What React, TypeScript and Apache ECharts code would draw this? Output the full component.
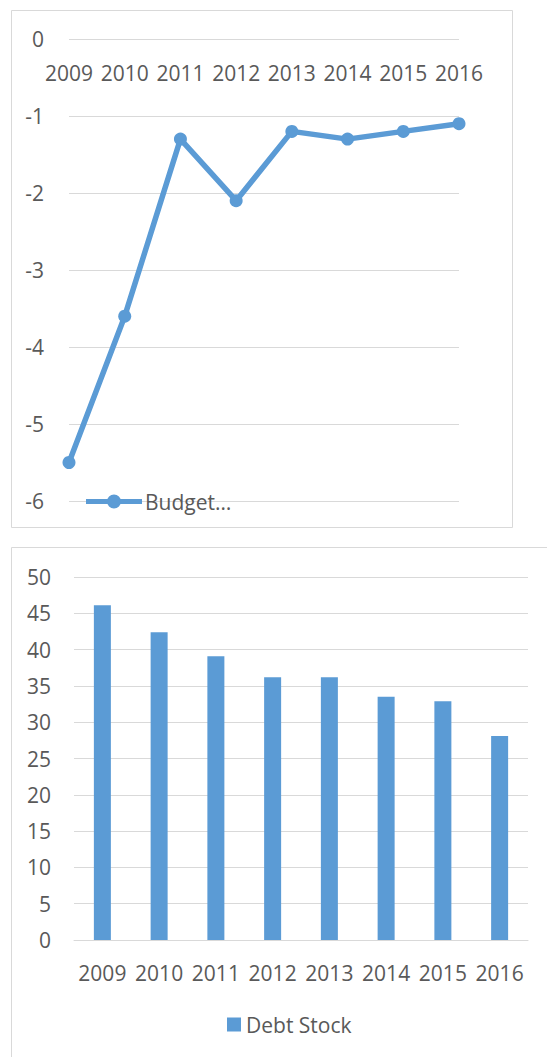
import React, { useEffect, useRef } from "react";
import * as echarts from "echarts";

const years = ["2009", "2010", "2011", "2012", "2013", "2014", "2015", "2016"];
const budgetBalance = [-5.5, -3.6, -1.3, -2.1, -1.2, -1.3, -1.2, -1.1];
const debtStock = [46.1, 42.4, 39.1, 36.2, 36.2, 33.5, 32.9, 28.1];
const budgetTicks = { min: -6, max: 0, interval: 1 };
const debtTicks = { min: 0, max: 50, interval: 5 };

const BLUE = "#5B9BD5";
const GRID = "#d9d9d9";
const TEXT = "#595959";
const FONT = "'Open Sans', 'Noto Sans', sans-serif";
const FS = 21;
const LINE_MARKER_ICON =
  "path://M0 4.5 H56 V9.5 H0 Z M21 7 A7 7 0 1 1 35 7 A7 7 0 1 1 21 7 Z";

export default function App() {
  const ref = useRef<HTMLDivElement>(null);
  useEffect(() => {
    if (!ref.current) return;
    const chart = echarts.init(ref.current, null, { renderer: "svg" });
    chart.setOption({
      animation: false,
      backgroundColor: "#ffffff",
      textStyle: { fontFamily: FONT },
      graphic: [
        {
          type: "rect",
          z: -10,
          shape: { x: 11.5, y: 10.5, width: 501, height: 517 },
          style: { fill: "#ffffff", stroke: GRID, lineWidth: 1 },
        },
        {
          type: "rect",
          z: -10,
          shape: { x: 11.5, y: 547.5, width: 600, height: 600 },
          style: { fill: "#ffffff", stroke: GRID, lineWidth: 1 },
        },
      ],
      legend: [
        {
          left: 86,
          top: 491,
          padding: 0,
          data: [{ name: "Budget…", icon: LINE_MARKER_ICON }],
          itemWidth: 56,
          itemHeight: 14,
          itemGap: 0,
          itemStyle: { color: BLUE, borderWidth: 0 },
          textStyle: { fontSize: FS, color: TEXT, fontFamily: FONT, padding: [0, 0, 0, -2] },
        },
        {
          left: 227,
          top: 1014,
          padding: 0,
          data: ["Debt Stock"],
          itemWidth: 14,
          itemHeight: 14,
          textStyle: { fontSize: FS, color: TEXT, fontFamily: FONT },
          icon: "rect",
        },
      ],
      grid: [
        { left: 69, width: 390, top: 39, height: 462, containLabel: false },
        { left: 74, width: 454, top: 577, height: 363, containLabel: false },
      ],
      xAxis: [
        {
          gridIndex: 0,
          type: "category",
          data: years,
          position: "top",
          boundaryGap: false,
          axisLine: { show: false },
          axisTick: { show: false },
          axisLabel: {
            inside: true,
            margin: 23,
            interval: 0,
            hideOverlap: false,
            fontSize: FS,
            color: TEXT,
            fontFamily: FONT,
          },
          splitLine: { show: false },
        },
        {
          gridIndex: 1,
          type: "category",
          data: years,
          axisLine: { show: true, lineStyle: { color: GRID, width: 1 } },
          axisTick: { show: false },
          axisLabel: { margin: 22, interval: 0, fontSize: FS, color: TEXT, fontFamily: FONT },
        },
      ],
      yAxis: [
        {
          gridIndex: 0,
          type: "value",
          min: budgetTicks.min,
          max: budgetTicks.max,
          interval: budgetTicks.interval,
          axisLine: { show: false },
          axisTick: { show: false },
          axisLabel: { margin: 25, fontSize: FS, color: TEXT, fontFamily: FONT },
          splitLine: { lineStyle: { color: GRID, width: 1 } },
        },
        {
          gridIndex: 1,
          type: "value",
          min: debtTicks.min,
          max: debtTicks.max,
          interval: debtTicks.interval,
          axisLine: { show: false },
          axisTick: { show: false },
          axisLabel: { margin: 23, fontSize: FS, color: TEXT, fontFamily: FONT },
          splitLine: { lineStyle: { color: GRID, width: 1 } },
        },
      ],
      series: [
        {
          name: "Budget…",
          type: "line",
          xAxisIndex: 0,
          yAxisIndex: 0,
          data: budgetBalance,
          symbol: "circle",
          symbolSize: 13,
          lineStyle: { color: BLUE, width: 5.5 },
          itemStyle: { color: BLUE },
          z: 5,
        },
        {
          name: "Debt Stock",
          type: "bar",
          xAxisIndex: 1,
          yAxisIndex: 1,
          data: debtStock,
          barWidth: 17,
          itemStyle: { color: BLUE },
        },
      ],
    });
    return () => chart.dispose();
  }, []);
  return (
    <div
      ref={ref}
      style={{ position: "absolute", left: 0, top: 0, width: 547, height: 1057 }}
    />
  );
}
